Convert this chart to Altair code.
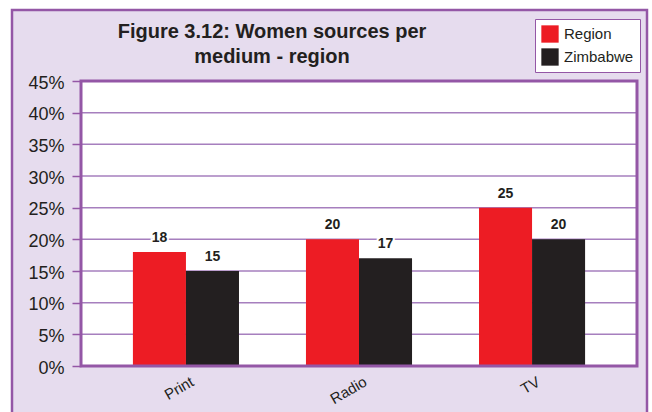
import altair as alt
import pandas as pd

# Data
media = ["Print", "Radio", "TV"]
series = ["Region", "Zimbabwe"]
region_vals = [18, 20, 25]
zimbabwe_vals = [15, 17, 20]
y_ticks = [0, 5, 10, 15, 20, 25, 30, 35, 40, 45]
grid_vals = [5, 10, 15, 20, 25, 30, 35, 40]

rows = []
for m, r, z in zip(media, region_vals, zimbabwe_vals):
    rows.append({"medium": m, "series": "Region", "value": r})
    rows.append({"medium": m, "series": "Zimbabwe", "value": z})
df = pd.DataFrame(rows)
grid_df = pd.DataFrame({"value": grid_vals})
one = pd.DataFrame({"k": [0]})

# Layout and palette
W, H = 556, 285
L, T = 81, 81
PURPLE = "#9457a6"
GRID = "#a67fbe"
LAV = "#e6dcee"
RED = "#ed1c24"
INK = "#231f20"
FONT = "Liberation Sans"

yscale = alt.Scale(domain=[0, 45], nice=False, zero=True)
xscale = alt.Scale(domain=media, paddingInner=0.387, paddingOuter=0.30)
offscale = alt.Scale(domain=series, paddingInner=0, paddingOuter=0)

x_axis = alt.Axis(title=None, labelAngle=-30, labelFontSize=15, labelColor=INK,
                  labelFont=FONT, ticks=False, domain=False, labelPadding=8,
                  labelOffset=3, grid=False, zindex=1)
y_axis = alt.Axis(title=None, values=y_ticks, labelExpr="datum.value + '%'",
                  labelFontSize=18, labelColor=INK, labelFont=FONT,
                  tickSize=9, tickColor=PURPLE, tickWidth=1.5,
                  labelPadding=8, labelOffset=2, domain=False, grid=False, zindex=1)

x_enc = alt.X("medium:N", scale=xscale, sort=media, axis=x_axis)
y_enc = alt.Y("value:Q", scale=yscale, axis=y_axis)
off_enc = alt.XOffset("series:N", scale=offscale, sort=series)

# Lavender panel with purple frame behind everything
frame = alt.Chart(one).mark_rect(fill=LAV, stroke=PURPLE, strokeWidth=2.5).encode(
    x=alt.value(12 - L), x2=alt.value(647 - L),
    y=alt.value(10 - T), y2=alt.value(440 - T),
)

# White plotting area
plot_bg = alt.Chart(one).mark_rect(fill="white").encode(
    x=alt.value(0), x2=alt.value(W), y=alt.value(0), y2=alt.value(H)
)

# Horizontal gridlines
grid = alt.Chart(grid_df).mark_rule(color=GRID, strokeWidth=1.5).encode(y=y_enc)

bars = alt.Chart(df).mark_bar().encode(
    x=x_enc,
    xOffset=off_enc,
    y=y_enc,
    color=alt.Color(
        "series:N", scale=alt.Scale(domain=series, range=[RED, INK]),
        legend=alt.Legend(
            title=None, orient="none", legendX=454, legendY=-62,
            strokeColor=PURPLE, fillColor="white", padding=6,
            symbolType="square", symbolSize=300, symbolStrokeWidth=0,
            labelFontSize=15, labelColor=INK, labelFont=FONT,
            rowPadding=5, labelOffset=5,
        ),
    ),
)

label_base = alt.Chart(df).encode(
    x=x_enc, xOffset=off_enc, y=y_enc, text=alt.Text("value:Q"),
)
halo = label_base.mark_text(
    baseline="bottom", dy=-7, fontSize=14, fontWeight="bold", font=FONT,
    fill="white", stroke="white", strokeWidth=4,
)
labels = label_base.mark_text(
    baseline="bottom", dy=-7, fontSize=14, fontWeight="bold", font=FONT, color=INK,
)

# Plot border on top
border = alt.Chart(one).mark_rect(fill="transparent", stroke=PURPLE, strokeWidth=3).encode(
    x=alt.value(0), x2=alt.value(W), y=alt.value(0), y2=alt.value(H)
)

chart = alt.layer(frame, plot_bg, grid, bars, halo, labels, border).properties(
    width=W, height=H,
    padding={"left": L, "top": T, "right": 15, "bottom": 46},
    autosize=alt.AutoSizeParams(type="none"),
    background="white",
    title=alt.TitleParams(
        text=["Figure 3.12: Women sources per", "medium - region"],
        fontSize=20, fontWeight="bold", font=FONT, color=INK,
        anchor="middle", dx=-87, dy=66, lineHeight=25, offset=8,
    ),
).configure_view(stroke=None)

chart.save("out.html", embed_options={"renderer": "svg", "actions": False})
